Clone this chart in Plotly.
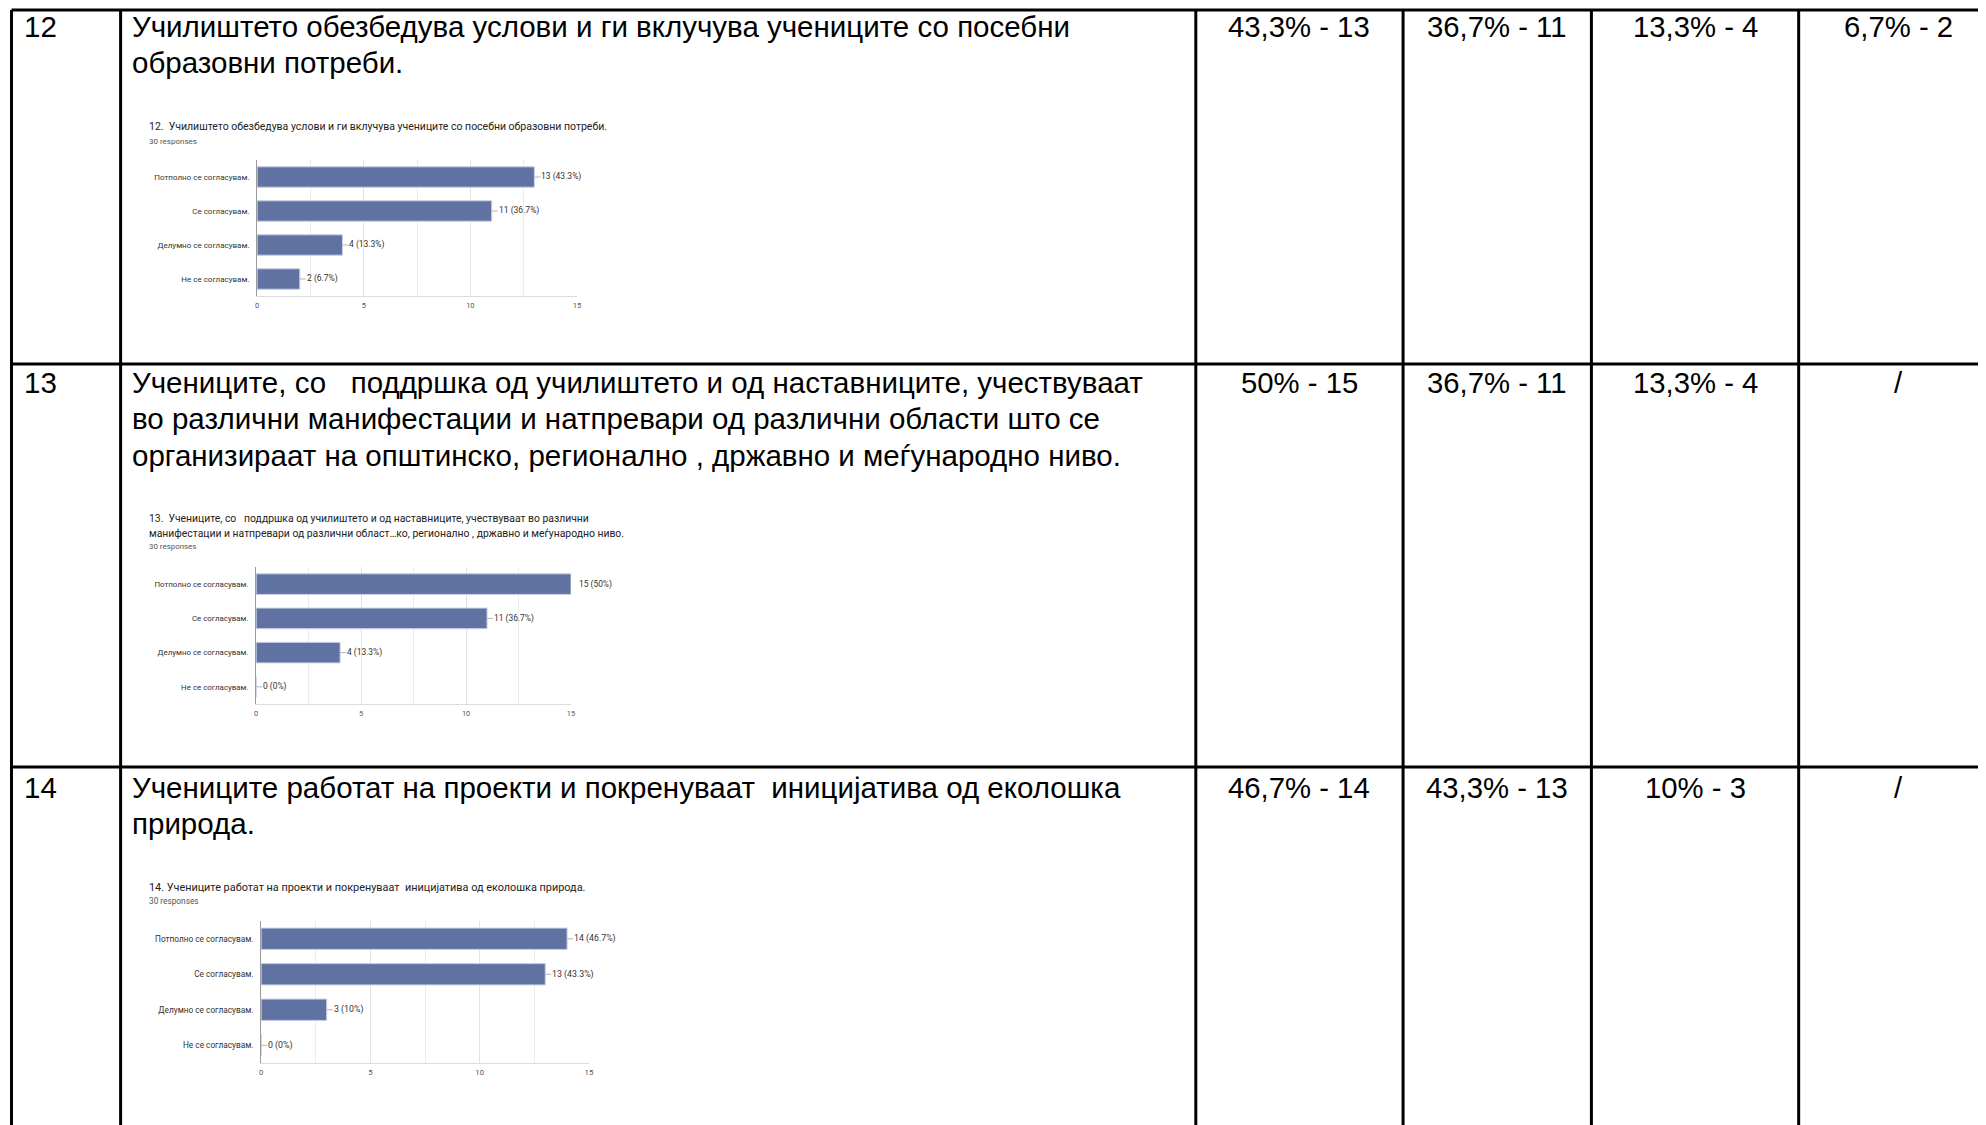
import plotly.graph_objects as go

W, H = 1986, 1125
POMES = 8  # margina na body vo html stranata

# --- podatoci ---
broevi = ["12", "13", "14"]
izjavi = [
    ["Училиштето обезбедува услови и ги вклучува учениците со посебни",
     "образовни потреби."],
    ["Учениците, со   поддршка од училиштето и од наставниците, учествуваат",
     "во различни манифестации и натпревари од различни области што се",
     "организираат на општинско, регионално , државно и меѓународно ниво."],
    ["Учениците работат на проекти и покренуваат  иницијатива од еколошка",
     "природа."],
]
procenti_12 = ["43,3% - 13", "36,7% - 11", "13,3% - 4", "6,7% - 2"]
procenti_13 = ["50% - 15", "36,7% - 11", "13,3% - 4", "/"]
procenti_14 = ["46,7% - 14", "43,3% - 13", "10% - 3", "/"]

naslovi = [
    ["12.  Училиштето обезбедува услови и ги вклучува учениците со посебни образовни потреби."],
    ["13.  Учениците, со   поддршка од училиштето и од наставниците, учествуваат во различни",
     "манифестации и натпревари од различни област…ко, регионално , државно и меѓународно ниво."],
    ["14. Учениците работат на проекти и покренуваат  иницијатива од еколошка природа."],
]
odgovori = "30 responses"
kategorii = ["Потполно се согласувам.", "Се согласувам.",
             "Делумно се согласувам.", "Не се согласувам."]
odgovori_12 = [13, 11, 4, 2]
odgovori_13 = [15, 11, 4, 0]
odgovori_14 = [14, 13, 3, 0]
vkupno = 30

# --- raspored (pikseli na slikata) ---
kol_x = [9.5, 119, 1198, 1406, 1595, 1803]
red_y = [10, 364, 767]
# mini grafikoni: (x0, x1, y_gore, y_dolu, y_naslov, skala na fontot)
grafikoni = [
    (256, 577, 160, 296, 127, 1.0),
    (255, 571, 567, 704, 518, 0.99),
    (260, 589, 921, 1063, 887, 1.035),
]
red_tekst_y = [27, 383, 787]
linija_razmak = 36


def px(x):
    return (x - POMES) / W


def py(y):
    return 1 - (y - POMES) / H


fig = go.Figure()
anotacii = []
oblici = []

# linii na tabelata
for x in kol_x:
    oblici.append(dict(type="line", xref="paper", yref="paper", x0=px(x), x1=px(x),
                       y0=py(red_y[0]), y1=0, line=dict(color="black", width=3)))
for y in red_y:
    oblici.append(dict(type="line", xref="paper", yref="paper", x0=px(kol_x[0]), x1=1,
                       y0=py(y), y1=py(y), line=dict(color="black", width=3)))

glaven_font = "Liberation Sans, Arial, sans-serif"
mini_font = "Roboto, Liberation Sans, Arial, sans-serif"

kol_centri = [(kol_x[2] + kol_x[3]) / 2, (kol_x[3] + kol_x[4]) / 2,
              (kol_x[4] + kol_x[5]) / 2, 1903]

for i, (broj, linii, procenti) in enumerate(zip(broevi, izjavi, [procenti_12, procenti_13, procenti_14])):
    y0 = red_tekst_y[i]
    anotacii.append(dict(x=px(20), y=py(y0), xref="paper", yref="paper", text=broj,
                         showarrow=False, xanchor="left", yanchor="middle",
                         font=dict(family=glaven_font, size=29.5, color="black")))
    for j, linija in enumerate(linii):
        anotacii.append(dict(x=px(128), y=py(y0 + j * linija_razmak), xref="paper", yref="paper",
                             text=linija, showarrow=False, xanchor="left", yanchor="middle",
                             font=dict(family=glaven_font, size=29.5, color="black")))
    for c, t in zip(kol_centri, procenti):
        anotacii.append(dict(x=px(c), y=py(y0), xref="paper", yref="paper", text=t,
                             showarrow=False, xanchor="center", yanchor="middle",
                             font=dict(family=glaven_font, size=29.3, color="black")))

# mini grafikoni
for k, (vrednosti, naslov) in enumerate(zip([odgovori_12, odgovori_13, odgovori_14], naslovi)):
    x0, x1, yg, yd, yn, s = grafikoni[k]
    sx = "" if k == 0 else str(k + 1)
    xa, ya = "x" + sx, "y" + sx
    fig.add_trace(go.Bar(
        x=vrednosti, y=kategorii, orientation="h", xaxis=xa, yaxis=ya,
        width=0.6, marker=dict(color="#6072a2", line=dict(color="#c9cfe6", width=1)),
        showlegend=False, hoverinfo="x+y",
    ))
    fig.layout["xaxis" + sx] = dict(
        domain=[px(x0), px(x1)], anchor=ya, range=[0, 15], dtick=5,
        showgrid=True, gridcolor="#e3e3e3", gridwidth=1, zeroline=False,
        minor=dict(dtick=2.5, showgrid=True, gridcolor="#ececec"),
        showline=True, linecolor="#dcdcdc", ticks="", ticklabelstandoff=2,
        tickfont=dict(family=mini_font, size=7.5 * s, color="#555"),
    )
    fig.layout["yaxis" + sx] = dict(
        domain=[py(yd), py(yg)], anchor=xa, autorange="reversed",
        showline=True, linecolor="#9a9a9a", linewidth=1, ticks="",
        ticklabelstandoff=5, showgrid=False,
        tickfont=dict(family=mini_font, size=8 * s, color="#333"),
    )
    for j, linija in enumerate(naslov):
        anotacii.append(dict(x=px(145), y=py(yn + j * 15), xref="paper", yref="paper",
                             text=linija, showarrow=False, xanchor="left", yanchor="middle",
                             font=dict(family=mini_font, size=10.5 * s, color="#222")))
    anotacii.append(dict(x=px(145), y=py(yn + len(naslov) * 15 - 1), xref="paper", yref="paper",
                         text=odgovori, showarrow=False, xanchor="left", yanchor="middle",
                         font=dict(family=mini_font, size=8 * s, color="#555")))
    for kat, v in zip(kategorii, vrednosti):
        etiketa = f"{v} ({round(v / vkupno * 100, 1):g}%)"
        if v >= 15:
            anotacii.append(dict(x=v, y=kat, xref=xa, yref=ya, text=etiketa,
                                 showarrow=False, xanchor="left", xshift=6,
                                 font=dict(family=mini_font, size=8.5 * s, color="#333")))
        else:
            anotacii.append(dict(x=v, y=kat, xref=xa, yref=ya, text=etiketa,
                                 showarrow=True, arrowhead=0, arrowwidth=1,
                                 arrowcolor="#b5b5b5", ax=6, ay=0, xanchor="left",
                                 borderpad=0,
                                 font=dict(family=mini_font, size=8.5 * s, color="#333")))

fig.update_layout(
    width=W, height=H, margin=dict(l=0, r=0, t=0, b=0),
    paper_bgcolor="white", plot_bgcolor="white",
    annotations=anotacii, shapes=oblici, bargap=0.4,
)

fig.write_html("out.html")
